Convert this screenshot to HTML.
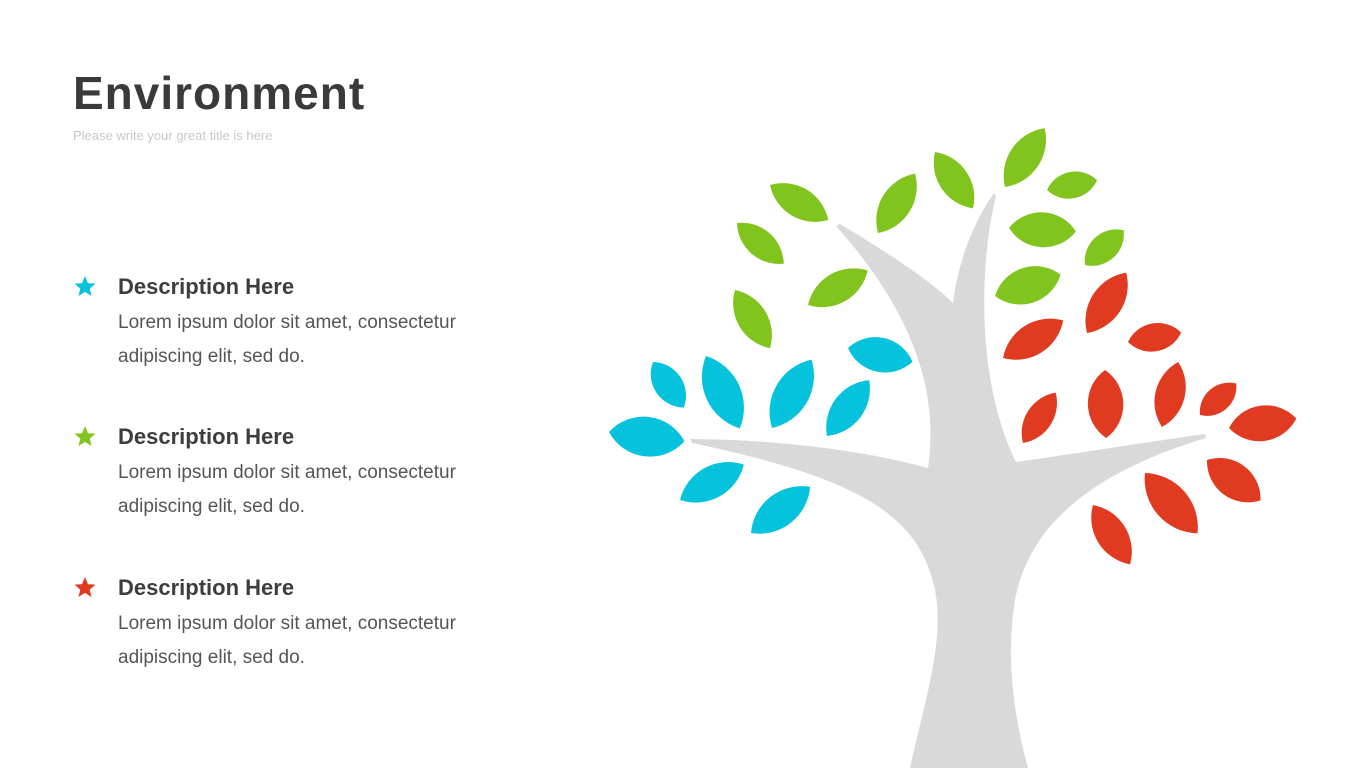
<!DOCTYPE html>
<html><head><meta charset="utf-8"><style>
body{margin:0;width:1365px;height:768px;background:#fff;position:relative;overflow:hidden;font-family:"Liberation Sans",sans-serif}
.t{position:absolute;left:73px;top:66px;font-size:46px;font-weight:bold;color:#3a3a3a;letter-spacing:1px}
.s{position:absolute;left:73px;top:128px;font-size:13px;color:#c8c8c8}
.h{position:absolute;left:118px;font-size:22px;font-weight:bold;color:#3d3d3d}
.b{position:absolute;left:118px;font-size:19px;color:#555;line-height:34px;letter-spacing:0}
</style></head><body>
<div class="t">Environment</div>
<div class="s">Please write your great title is here</div>
<div class="h" style="top:274px">Description Here</div>
<div class="b" style="top:306px">Lorem ipsum dolor sit amet, consectetur<br>adipiscing elit, sed do.</div>
<div class="h" style="top:424px">Description Here</div>
<div class="b" style="top:456px">Lorem ipsum dolor sit amet, consectetur<br>adipiscing elit, sed do.</div>
<div class="h" style="top:575px">Description Here</div>
<div class="b" style="top:607px">Lorem ipsum dolor sit amet, consectetur<br>adipiscing elit, sed do.</div>
<svg width="1365" height="768" style="position:absolute;left:0;top:0">
<defs>
<path id="st" d="M0,-11 L3,-3.8 L10.5,-3.4 L4.7,1.6 L6.6,9 L0,4.9 L-6.6,9 L-4.7,1.6 L-10.5,-3.4 L-3,-3.8 Z"/>
<path id="lf" d="M0,0 A67.8,67.8 0 0 1 100,0 A67.8,67.8 0 0 1 0,0 Z"/>
<path id="lw" d="M0,0 A61,61 0 0 1 100,0 A61,61 0 0 1 0,0 Z"/>
</defs>
<use href="#st" x="85" y="287" fill="#06c3dd"/>
<use href="#st" x="85" y="437" fill="#82c41e"/>
<use href="#st" x="85" y="588" fill="#e03a20"/>
<path fill="#d9d9d9" d="M910,768 C925,700 945,640 935,590 C920,520 870,480 692,443 L690,439 C800,440 880,455 928,468 C938,400 920,320 836,226 L840,224 C900,260 935,285 953,303 C958,260 975,220 994,193 L996,196 C980,260 975,380 1016,462 C1100,450 1160,440 1205,434 L1206,438 C1100,470 1030,520 1015,600 C1005,660 1015,720 1028,768 Z"/>
<g fill="#82c41e">
<use href="#lf" transform="translate(770,185) rotate(31) scale(0.68)"/>
<use href="#lf" transform="translate(737,223) rotate(41) scale(0.62)"/>
<use href="#lf" transform="translate(808,305) rotate(-30) scale(0.69)"/>
<use href="#lf" transform="translate(735,290) rotate(59) scale(0.68)"/>
<use href="#lf" transform="translate(878,233) rotate(-58) scale(0.70)"/>
<use href="#lf" transform="translate(935,152) rotate(56) scale(0.68)"/>
<use href="#lf" transform="translate(1005,187) rotate(-56) scale(0.71)"/>
<use href="#lw" transform="translate(1047,190) rotate(-11) scale(0.51)"/>
<use href="#lw" transform="translate(1009,228) rotate(3) scale(0.67)"/>
<use href="#lw" transform="translate(995,296) rotate(-18) scale(0.69)"/>
<use href="#lw" transform="translate(1085,265) rotate(-42) scale(0.52)"/>
</g>
<g fill="#06c3dd">
<use href="#lw" transform="translate(609,432) rotate(7) scale(0.76)"/>
<use href="#lw" transform="translate(653,362) rotate(56) scale(0.55)"/>
<use href="#lf" transform="translate(706,356) rotate(65) scale(0.80)"/>
<use href="#lf" transform="translate(772,428) rotate(-60) scale(0.79)"/>
<use href="#lf" transform="translate(827,436) rotate(-53) scale(0.70)"/>
<use href="#lw" transform="translate(848,348) rotate(12) scale(0.66)"/>
<use href="#lf" transform="translate(680,500) rotate(-29) scale(0.73)"/>
<use href="#lf" transform="translate(751,533) rotate(-38) scale(0.75)"/>
</g>
<g fill="#e03a20">
<use href="#lf" transform="translate(1003,358) rotate(-32) scale(0.71)"/>
<use href="#lf" transform="translate(1087,333) rotate(-57) scale(0.72)"/>
<use href="#lw" transform="translate(1128,342) rotate(-10) scale(0.54)"/>
<use href="#lf" transform="translate(1023,443) rotate(-57) scale(0.60)"/>
<use href="#lw" transform="translate(1105,370) rotate(89) scale(0.68)"/>
<use href="#lf" transform="translate(1162,427) rotate(-76) scale(0.67)"/>
<use href="#lw" transform="translate(1200,415) rotate(-41) scale(0.48)"/>
<use href="#lw" transform="translate(1229,428) rotate(-8) scale(0.68)"/>
<use href="#lw" transform="translate(1207,460) rotate(37) scale(0.67)"/>
<use href="#lf" transform="translate(1145,473) rotate(49) scale(0.80)"/>
<use href="#lf" transform="translate(1093,505) rotate(58) scale(0.70)"/>
</g>
</svg>
</body></html>
